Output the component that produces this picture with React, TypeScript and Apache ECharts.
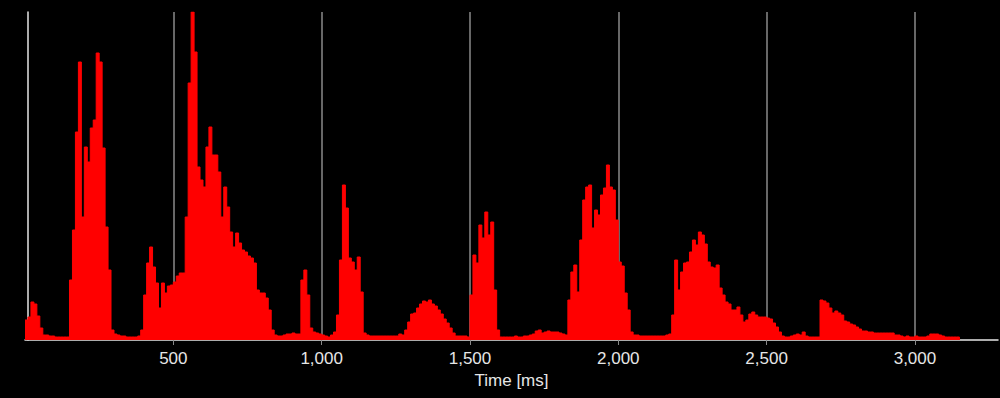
import React, { useEffect, useRef } from "react";
import * as echarts from "echarts";

// Bin width of the amplitude histogram, in milliseconds
const BIN_MS = 10;

// Amplitude per 10 ms bin (arbitrary units), 0–990 ms
const amp0000 = [
  20, 23, 38, 36, 24, 12, 5, 5, 4, 4,
  3, 3, 3, 3, 3, 60, 110, 208, 278, 123,
  193, 178, 212, 220, 287, 278, 192, 113, 70, 10,
  6, 5, 4, 4, 3, 3, 3, 3, 4, 10,
  45, 77, 93, 73, 57, 32, 57, 47, 54, 55,
  58, 64, 67, 67, 123, 257, 328, 288, 173, 160,
  153, 193, 213, 185, 185, 168, 123, 153, 133, 108,
  93, 107, 97, 90, 88, 84, 82, 77, 50, 47,
  47, 42, 30, 10, 5, 4, 4, 5, 6, 6,
  7, 6, 6, 60, 70, 45, 12, 8, 7, 6,
];

// 1000–1990 ms
const amp1000 = [
  5, 4, 3, 5, 8, 25, 80, 155, 132, 82,
  78, 70, 83, 48, 7, 5, 4, 4, 4, 4,
  4, 4, 4, 4, 4, 4, 6, 5, 10, 18,
  26, 27, 32, 36, 39, 38, 40, 36, 34, 30,
  26, 21, 17, 12, 7, 4, 4, 4, 4, 3,
  45, 85, 77, 115, 102, 128, 105, 118, 50, 10,
  3, 3, 3, 3, 3, 4, 3, 3, 4, 4,
  5, 6, 9, 10, 7, 8, 9, 8, 8, 8,
  7, 6, 5, 40, 68, 75, 48, 100, 140, 153,
  155, 112, 130, 125, 145, 152, 175, 153, 150, 120,
];

// 2000–2990 ms
const amp2000 = [
  78, 74, 47, 30, 8, 5, 5, 4, 4, 4,
  4, 4, 4, 4, 4, 4, 5, 6, 25, 80,
  50, 68, 77, 78, 88, 100, 95, 108, 105, 96,
  78, 73, 72, 75, 52, 45, 38, 36, 30, 30,
  33, 25, 18, 20, 26, 28, 25, 23, 23, 23,
  22, 21, 17, 13, 8, 4, 3, 3, 4, 5,
  6, 5, 8, 4, 3, 3, 3, 3, 40, 39,
  37, 32, 27, 29, 27, 25, 19, 18, 16, 15,
  13, 11, 9, 9, 8, 8, 7, 7, 7, 7,
  7, 7, 7, 5, 5, 4, 3, 4, 3, 3,
];

// 3000–3140 ms
const amp3000 = [
  4, 3, 3, 3, 4, 6, 6, 6, 5, 4,
  3, 3, 3, 3, 3,
];

const X_MAX = 3280;
const Y_MAX = 328;
const TICK_INTERVAL = 500;
const AXIS_NAME = "Time [ms]";

export default function App() {
  const ref = useRef<HTMLDivElement>(null);

  useEffect(() => {
    document.body.style.margin = "0";
    document.body.style.background = "#000";
    if (!ref.current) return;
    const chart = echarts.init(ref.current, undefined, { renderer: "svg" });

    const amps = [...amp0000, ...amp1000, ...amp2000, ...amp3000];
    const data: [number, number][] = amps.map((v, i) => [i * BIN_MS, v]);
    data.push([amps.length * BIN_MS, 0]);

    const font = "'Liberation Sans', Arial, sans-serif";

    chart.setOption({
      animation: false,
      backgroundColor: "#000",
      grid: { left: 25, right: 2, top: 12, bottom: 58, containLabel: false },
      xAxis: {
        type: "value",
        min: 0,
        max: X_MAX,
        interval: TICK_INTERVAL,
        name: AXIS_NAME,
        nameLocation: "middle",
        nameGap: 32,
        nameTextStyle: { color: "#e6e6e6", fontSize: 17, fontFamily: font },
        axisLine: { show: true, lineStyle: { color: "#e6e6e6", width: 1.5 } },
        axisTick: { show: true, length: 5, lineStyle: { color: "#888" } },
        axisLabel: {
          color: "#e6e6e6",
          fontSize: 17,
          fontFamily: font,
          margin: 10,
          showMinLabel: false,
          showMaxLabel: false,
          formatter: (v: number) => v.toLocaleString("en-US"),
        },
        splitLine: {
          show: true,
          showMinLine: false,
          showMaxLine: false,
          lineStyle: { color: "#8a8a8a", width: 1.5 },
        },
      },
      yAxis: {
        type: "value",
        min: 0,
        max: Y_MAX,
        offset: -3,
        axisLine: { show: true, lineStyle: { color: "#e6e6e6", width: 1.5 } },
        axisTick: { show: false },
        axisLabel: { show: false },
        splitLine: { show: false },
      },
      series: [
        {
          type: "line",
          step: "end",
          data,
          symbol: "none",
          lineStyle: { color: "#ff0000", width: 1 },
          areaStyle: { color: "#ff0000", opacity: 1 },
          z: 1,
        },
      ],
    });

    return () => chart.dispose();
  }, []);

  return (
    <div
      ref={ref}
      style={{ position: "fixed", left: 0, top: 0, width: 1000, height: 398 }}
    />
  );
}
